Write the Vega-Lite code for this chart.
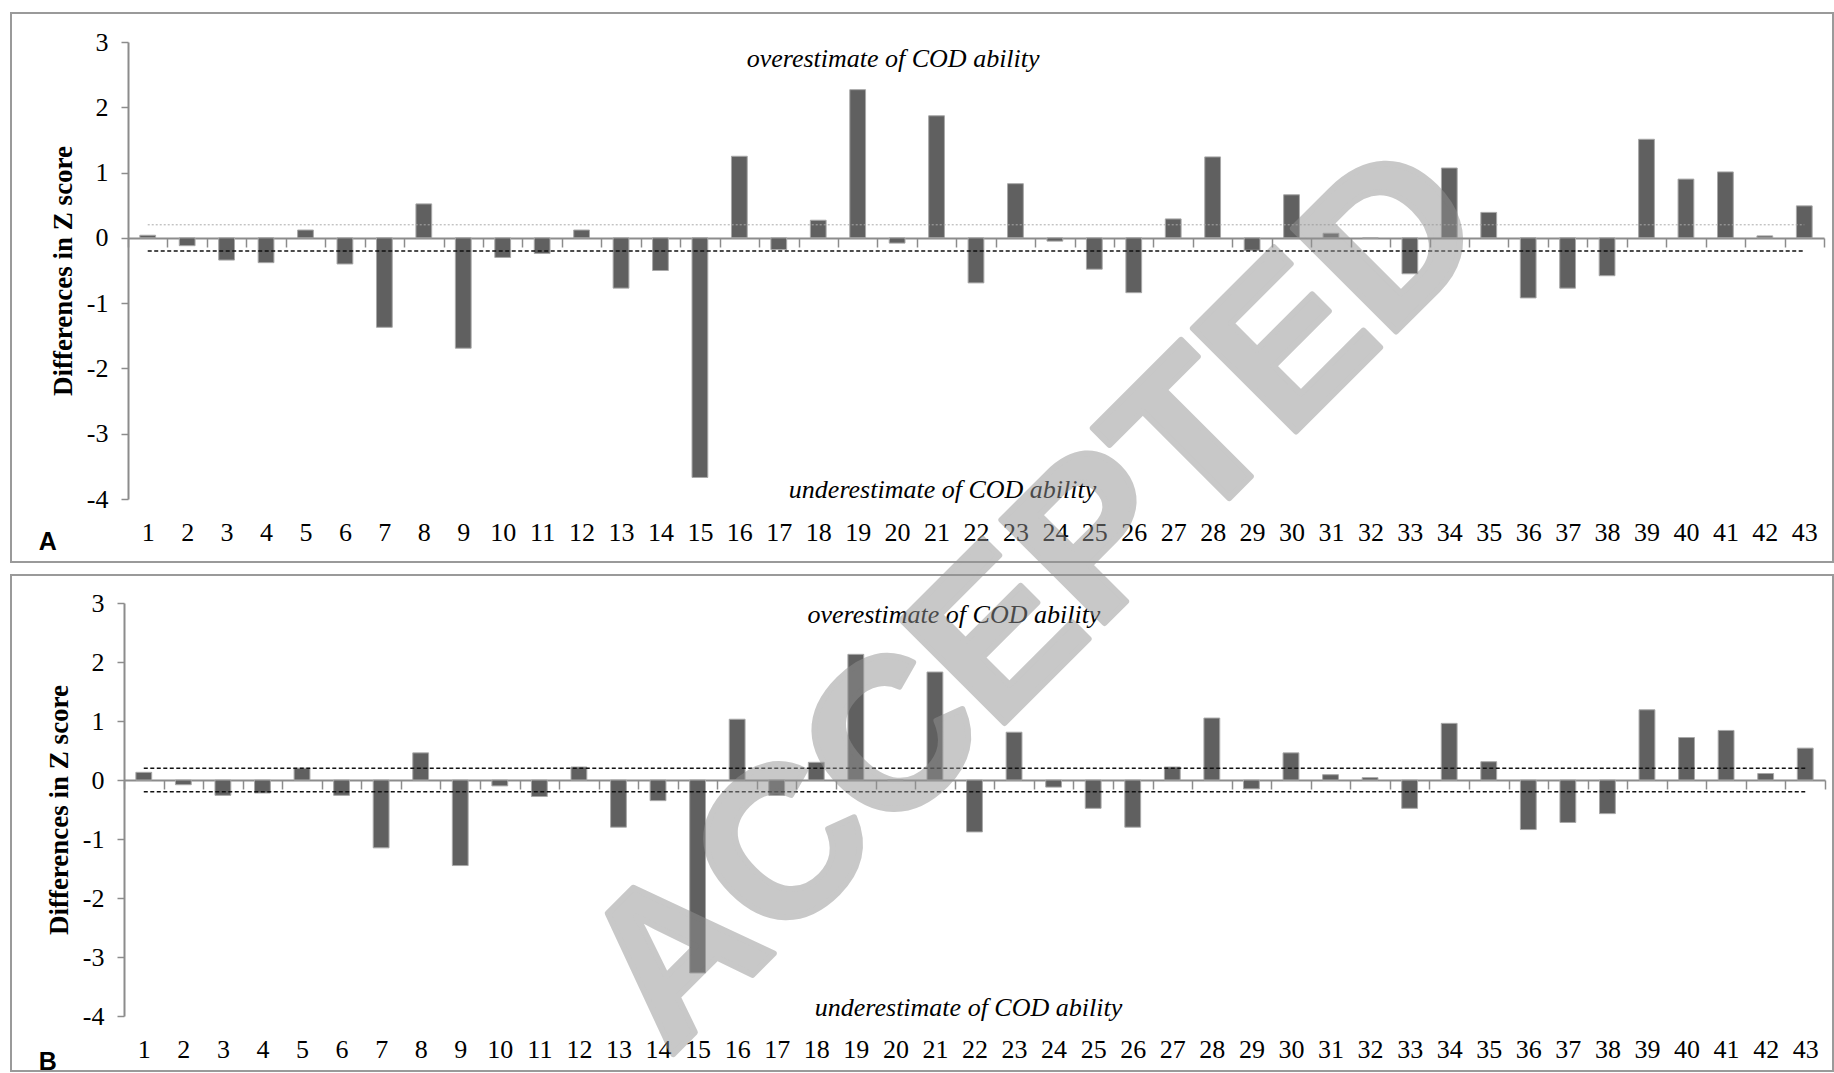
{
  "$schema": "https://vega.github.io/schema/vega-lite/v6.json",
  "padding": {"left": 10, "top": 12, "right": 0, "bottom": 0},
  "autosize": {"type": "pad"},
  "bounds": "flush",
  "spacing": 13,
  "background": "white",
  "config": {
    "view": {"stroke": "#9a9a9a", "strokeWidth": 2},
    "font": "Liberation Serif",
    "axis": {"grid": false, "labelFont": "Liberation Serif", "titleFont": "Liberation Serif", "labelColor": "black", "titleColor": "black"}
  },
  "datasets": {
    "A": [
      {"n": 1, "d": 0.04}, {"n": 2, "d": -0.12}, {"n": 3, "d": -0.34}, {"n": 4, "d": -0.38},
      {"n": 5, "d": 0.12}, {"n": 6, "d": -0.40}, {"n": 7, "d": -1.37}, {"n": 8, "d": 0.52},
      {"n": 9, "d": -1.69}, {"n": 10, "d": -0.30}, {"n": 11, "d": -0.24}, {"n": 12, "d": 0.12},
      {"n": 13, "d": -0.77}, {"n": 14, "d": -0.50}, {"n": 15, "d": -3.67}, {"n": 16, "d": 1.25},
      {"n": 17, "d": -0.18}, {"n": 18, "d": 0.27}, {"n": 19, "d": 2.27}, {"n": 20, "d": -0.08},
      {"n": 21, "d": 1.87}, {"n": 22, "d": -0.69}, {"n": 23, "d": 0.83}, {"n": 24, "d": -0.05},
      {"n": 25, "d": -0.48}, {"n": 26, "d": -0.84}, {"n": 27, "d": 0.29}, {"n": 28, "d": 1.24},
      {"n": 29, "d": -0.19}, {"n": 30, "d": 0.66}, {"n": 31, "d": 0.07}, {"n": 32, "d": 0.0},
      {"n": 33, "d": -0.55}, {"n": 34, "d": 1.07}, {"n": 35, "d": 0.39}, {"n": 36, "d": -0.92},
      {"n": 37, "d": -0.77}, {"n": 38, "d": -0.58}, {"n": 39, "d": 1.51}, {"n": 40, "d": 0.90},
      {"n": 41, "d": 1.01}, {"n": 42, "d": 0.03}, {"n": 43, "d": 0.49}
    ],
    "B": [
      {"n": 1, "d": 0.13}, {"n": 2, "d": -0.08}, {"n": 3, "d": -0.26}, {"n": 4, "d": -0.22},
      {"n": 5, "d": 0.20}, {"n": 6, "d": -0.26}, {"n": 7, "d": -1.15}, {"n": 8, "d": 0.46},
      {"n": 9, "d": -1.45}, {"n": 10, "d": -0.10}, {"n": 11, "d": -0.28}, {"n": 12, "d": 0.22},
      {"n": 13, "d": -0.80}, {"n": 14, "d": -0.35}, {"n": 15, "d": -3.27}, {"n": 16, "d": 1.03},
      {"n": 17, "d": -0.26}, {"n": 18, "d": 0.30}, {"n": 19, "d": 2.13}, {"n": 20, "d": 0.0},
      {"n": 21, "d": 1.83}, {"n": 22, "d": -0.88}, {"n": 23, "d": 0.81}, {"n": 24, "d": -0.12},
      {"n": 25, "d": -0.48}, {"n": 26, "d": -0.80}, {"n": 27, "d": 0.22}, {"n": 28, "d": 1.05},
      {"n": 29, "d": -0.15}, {"n": 30, "d": 0.46}, {"n": 31, "d": 0.09}, {"n": 32, "d": 0.04},
      {"n": 33, "d": -0.48}, {"n": 34, "d": 0.96}, {"n": 35, "d": 0.31}, {"n": 36, "d": -0.84},
      {"n": 37, "d": -0.72}, {"n": 38, "d": -0.57}, {"n": 39, "d": 1.19}, {"n": 40, "d": 0.72},
      {"n": 41, "d": 0.84}, {"n": 42, "d": 0.11}, {"n": 43, "d": 0.54}
    ]
  },
  "vconcat": [
    {
      "width": 1822,
      "height": 549,
      "layer": [
        {
          "data": {"name": "A"},
          "mark": {"type": "bar", "color": "#606060", "stroke": "#a8a8a8", "strokeWidth": 1, "width": {"band": 0.4}},
          "encoding": {
            "x": {
              "field": "n", "type": "ordinal",
              "scale": {"range": [117, 1813], "paddingInner": 0, "paddingOuter": 0},
              "axis": {"orient": "bottom", "offset": -324, "title": null, "domainColor": "#8c8c8c", "domainWidth": 2, "tickColor": "#8c8c8c", "tickWidth": 1.5, "tickSize": 9, "tickBand": "extent", "labelAngle": 0, "labelFontSize": 26, "labelPadding": 272, "labelOverlap": false}
            },
            "y": {
              "field": "d", "type": "quantitative",
              "scale": {"domain": [-4, 3], "range": [486, 29], "nice": false, "zero": false},
              "axis": {"values": [-4, -3, -2, -1, 0, 1, 2, 3], "labelExpr": "'' + datum.value", "offset": -117, "title": "Differences in Z score", "titleFontSize": 27, "titleFontWeight": "bold", "titlePadding": 9, "domainColor": "#8c8c8c", "domainWidth": 2, "tickColor": "#8c8c8c", "tickWidth": 1.5, "tickSize": 7, "labelFontSize": 26, "labelPadding": 13}
            }
          }
        },
        {
          "data": {"values": [{}]},
          "mark": {"type": "rule", "color": "#aaaaaa", "strokeWidth": 1, "strokeDash": [2, 2]},
          "encoding": {"x": {"datum": 1, "type": "ordinal"}, "x2": {"datum": 43}, "y": {"datum": 0.2}}
        },
        {
          "data": {"values": [{}]},
          "mark": {"type": "rule", "color": "#111111", "strokeWidth": 1.5, "strokeDash": [4, 2.5]},
          "encoding": {"x": {"datum": 1, "type": "ordinal"}, "x2": {"datum": 43}, "y": {"datum": -0.2}}
        },
        {
          "data": {"values": [{}]},
          "mark": {"type": "text", "text": "overestimate of COD ability", "font": "Liberation Serif", "fontStyle": "italic", "fontWeight": "normal", "fontSize": 26, "align": "center", "baseline": "middle", "dx": -4, "color": "black"},
          "encoding": {"x": {"datum": 20, "type": "ordinal"}, "y": {"datum": 2.74}}
        },
        {
          "data": {"values": [{}]},
          "mark": {"type": "text", "text": "underestimate of COD ability", "font": "Liberation Serif", "fontStyle": "italic", "fontWeight": "normal", "fontSize": 26, "align": "center", "baseline": "middle", "dx": 6, "color": "black"},
          "encoding": {"x": {"datum": 21, "type": "ordinal"}, "y": {"datum": -3.86}}
        },
        {
          "data": {"values": [{}]},
          "mark": {"type": "text", "text": "A", "font": "Liberation Sans", "fontWeight": "bold", "fontSize": 25, "align": "center", "baseline": "middle", "dx": -100, "color": "black"},
          "encoding": {"x": {"datum": 1, "type": "ordinal"}, "y": {"datum": -4.66}}
        }
      ]
    },
    {
      "width": 1822,
      "height": 496,
      "layer": [
        {
          "data": {"name": "B"},
          "mark": {"type": "bar", "color": "#606060", "stroke": "#a8a8a8", "strokeWidth": 1, "width": {"band": 0.4}},
          "encoding": {
            "x": {
              "field": "n", "type": "ordinal",
              "scale": {"range": [113, 1814], "paddingInner": 0, "paddingOuter": 0},
              "axis": {"orient": "bottom", "offset": -291, "title": null, "domainColor": "#8c8c8c", "domainWidth": 2, "tickColor": "#8c8c8c", "tickWidth": 1.5, "tickSize": 9, "tickBand": "extent", "labelAngle": 0, "labelFontSize": 26, "labelPadding": 247, "labelOverlap": false}
            },
            "y": {
              "field": "d", "type": "quantitative",
              "scale": {"domain": [-4, 3], "range": [441, 28], "nice": false, "zero": false},
              "axis": {"values": [-4, -3, -2, -1, 0, 1, 2, 3], "labelExpr": "'' + datum.value", "offset": -113, "title": "Differences in Z score", "titleFontSize": 27, "titleFontWeight": "bold", "titlePadding": 9, "domainColor": "#8c8c8c", "domainWidth": 2, "tickColor": "#8c8c8c", "tickWidth": 1.5, "tickSize": 7, "labelFontSize": 26, "labelPadding": 13}
            }
          }
        },
        {
          "data": {"values": [{}]},
          "mark": {"type": "rule", "color": "#111111", "strokeWidth": 1.5, "strokeDash": [4, 2.5]},
          "encoding": {"x": {"datum": 1, "type": "ordinal"}, "x2": {"datum": 43}, "y": {"datum": 0.2}}
        },
        {
          "data": {"values": [{}]},
          "mark": {"type": "rule", "color": "#111111", "strokeWidth": 1.5, "strokeDash": [4, 2.5]},
          "encoding": {"x": {"datum": 1, "type": "ordinal"}, "x2": {"datum": 43}, "y": {"datum": -0.2}}
        },
        {
          "data": {"values": [{}]},
          "mark": {"type": "text", "text": "overestimate of COD ability", "font": "Liberation Serif", "fontStyle": "italic", "fontWeight": "normal", "fontSize": 26, "align": "center", "baseline": "middle", "dx": 19, "color": "black"},
          "encoding": {"x": {"datum": 21, "type": "ordinal"}, "y": {"datum": 2.8}}
        },
        {
          "data": {"values": [{}]},
          "mark": {"type": "text", "text": "underestimate of COD ability", "font": "Liberation Serif", "fontStyle": "italic", "fontWeight": "normal", "fontSize": 26, "align": "center", "baseline": "middle", "dx": -6, "color": "black"},
          "encoding": {"x": {"datum": 22, "type": "ordinal"}, "y": {"datum": -3.86}}
        },
        {
          "data": {"values": [{}]},
          "mark": {"type": "text", "text": "B", "font": "Liberation Sans", "fontWeight": "bold", "fontSize": 25, "align": "center", "baseline": "middle", "dx": -96, "color": "black"},
          "encoding": {"x": {"datum": 1, "type": "ordinal"}, "y": {"datum": -4.78}}
        },
        {
          "data": {"values": [{}]},
          "mark": {"type": "text", "text": "ACCEPTED", "font": "Liberation Sans", "fontWeight": "bold", "fontSize": 212, "angle": -45, "align": "center", "baseline": "middle", "dx": -10, "dy": -14, "fill": "#929292", "stroke": "#929292", "strokeWidth": 6, "strokeJoin": "round", "opacity": 0.5},
          "encoding": {"x": {"datum": 24, "type": "ordinal"}, "y": {"datum": 3.0}}
        }
      ]
    }
  ]
}
